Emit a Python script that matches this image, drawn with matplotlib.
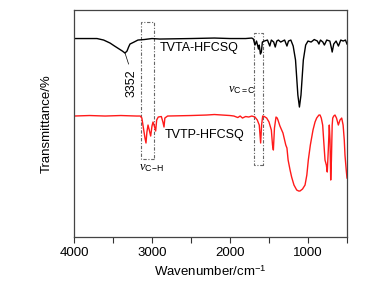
import numpy as np
import matplotlib
matplotlib.use("Agg")
import matplotlib.pyplot as plt
from matplotlib.patches import Rectangle
from matplotlib.ticker import MultipleLocator

plt.rcParams['font.family'] = ['Liberation Sans', 'DejaVu Sans']
plt.rcParams['mathtext.fontset'] = 'custom'
plt.rcParams['mathtext.it'] = 'Liberation Serif:italic'
plt.rcParams['mathtext.rm'] = 'Liberation Sans'

# FTIR spectra (wavenumber in cm-1, transmittance in arbitrary offset units)
wn_tvta = [4000, 3800, 3705, 3620, 3538, 3480, 3420, 3380, 3346, 3320, 3300, 3282,
           3230, 3180, 3100, 3000, 2900, 2500, 2200, 2000, 1800, 1720, 1700, 1680,
           1660, 1635, 1625, 1610, 1598, 1585, 1560, 1520, 1490, 1470, 1440, 1420,
           1400, 1380, 1350, 1300, 1270, 1250, 1220, 1190, 1160, 1130, 1110, 1090,
           1060, 1030, 1000, 960, 920, 880, 860, 840, 810, 790, 760, 720, 700, 690,
           670, 640, 610, 580, 550, 520, 500]
t_tvta = [198.5, 198.5, 198.5, 197, 194, 191, 188, 186, 184, 186, 190, 193,
          195, 197, 197.5, 198.5, 198, 198.5, 199, 198.5, 198.5, 199, 198, 192,
          196, 188, 192, 183, 185, 195, 196, 197, 191, 197, 195, 190,
          196, 197, 195, 197, 191, 196, 197, 191, 177, 142, 130, 142,
          177, 192, 196, 195, 197.5, 196, 193, 197, 195, 192, 197, 196, 189, 185,
          193, 196, 191, 197, 196, 197, 193]

wn_tvtp = [4000, 3800, 3600, 3400, 3200, 3150, 3130, 3110, 3090, 3077, 3065, 3051,
           3035, 3017, 3000, 2987, 2970, 2953, 2940, 2920, 2880, 2860, 2846, 2835,
           2800, 2500, 2300, 2200, 2000, 1950, 1900, 1870, 1840, 1800, 1760, 1720,
           1680, 1650, 1625, 1607, 1595, 1581, 1560, 1530, 1500, 1470, 1455, 1444,
           1430, 1410, 1395, 1385, 1360, 1321, 1300, 1285, 1270, 1255, 1230, 1210,
           1180, 1145, 1120, 1103, 1070, 1038, 1015, 996, 970, 936, 910, 889,
           860, 846, 830, 812, 795, 782, 765, 753, 740, 727, 718, 709, 700, 690,
           683, 670, 654, 635, 611, 590, 568, 550, 535, 526, 510, 500]
t_tvtp = [121, 121.5, 121, 121.5, 121, 121, 119, 109, 99, 94, 105, 112,
          107, 101, 111, 115, 111, 106, 117, 120, 120.5, 115, 110, 119,
          121, 121.5, 122, 122.5, 121.5, 121, 119.5, 121, 119, 120.5, 120, 121,
          120, 117, 112, 94, 112, 121, 120.5, 119, 115, 107, 92, 87,
          109, 120, 119, 117, 111, 104, 97, 92, 89, 77, 67, 60,
          52, 47, 46, 46, 48, 52, 62, 77, 92, 107, 115, 119,
          122, 122, 119, 112, 92, 77, 72, 65, 87, 112, 97, 57, 77, 112,
          119, 121, 122, 119, 112, 117, 119, 112, 97, 82, 67, 59]

fig = plt.figure(figsize=(3.69, 2.87), dpi=100)
ax = fig.add_axes([0.2005, 0.1742, 0.7399, 0.7908])

ax.plot(wn_tvta, t_tvta, color='black', lw=1.0)
ax.plot(wn_tvtp, t_tvtp, color='#ff1a1a', lw=1.0)

# dashed boxes marking the C-H and C=C bands
box_kw = dict(fill=False, ec='#666666', lw=0.8, ls=(0, (3, 1.5, 1, 1.5)))
ax.add_patch(Rectangle((2978, 78), 3145 - 2978, 215 - 78, **box_kw))
ax.add_patch(Rectangle((1573, 72), 1692 - 1573, 204 - 72, **box_kw))

ax.text(2900, 189, 'TVTA-HFCSQ', fontsize=9, va='center', ha='left')
ax.text(2833, 102, 'TVTP-HFCSQ', fontsize=9, va='center', ha='left')
ax.text(3265, 154, '3352', fontsize=9, rotation=90, va='center', ha='center')
ax.plot([3346, 3300], [184, 173], color='black', lw=0.5)
ax.text(2030, 147, r'$\mathit{v}_{\mathrm{C=C}}$', fontsize=9, va='center', ha='left')
ax.text(3170, 69, r'$\mathit{v}_{\mathrm{C\!-\!H}}$', fontsize=9, va='center', ha='left')

ax.set_xlim(4000, 500)
ax.set_ylim(0, 227)
ax.xaxis.set_major_locator(MultipleLocator(1000))
ax.xaxis.set_minor_locator(MultipleLocator(500))
ax.tick_params(axis='x', which='both', direction='out', length=4, width=0.8,
               labelsize=9.5, colors='#333333', labelcolor='black')
ax.set_yticks([])
for s in ax.spines.values():
    s.set_color('#444444')
    s.set_linewidth(0.9)

ax.set_xlabel('Wavenumber/cm$^{-1}$', fontsize=9.5)
ax.set_ylabel('Transmittance/%', fontsize=9.5, labelpad=15)

fig.savefig('out.png', dpi=100)
